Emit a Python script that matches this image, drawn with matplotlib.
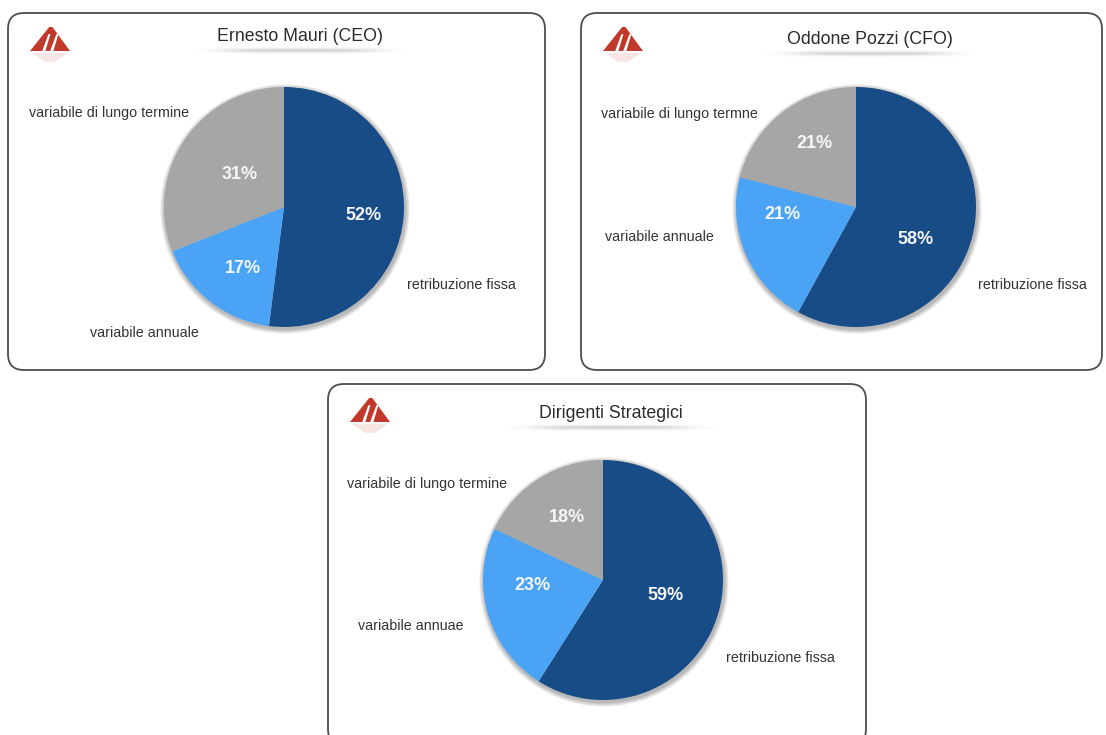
import numpy as np
import matplotlib
matplotlib.use("Agg")
import matplotlib.pyplot as plt
from matplotlib.patches import FancyBboxPatch, Circle, Polygon

# ---------------- data ----------------
categories = ["retribuzione fissa", "variabile annuale", "variabile di lungo termine"]
ceo_values = [52, 17, 31]
cfo_values = [58, 21, 21]
ds_values = [59, 23, 18]
titles = ["Ernesto Mauri (CEO)", "Oddone Pozzi (CFO)", "Dirigenti Strategici"]
ceo_labels = ["retribuzione fissa", "variabile annuale", "variabile di lungo termine"]
cfo_labels = ["retribuzione fissa", "variabile annuale", "variabile di lungo termne"]
ds_labels = ["retribuzione fissa", "variabile annuae", "variabile di lungo termine"]

# ---------------- style ----------------
colors = ["#174c86", "#4aa3f4", "#a6a6a6"]
W, H = 1106, 735
plt.rcParams["font.family"] = ["Liberation Sans", "DejaVu Sans"]

fig = plt.figure(figsize=(W / 100, H / 100), dpi=100)
fig.patch.set_facecolor("white")
bg = fig.add_axes([0, 0, 1, 1])
bg.set_xlim(0, W)
bg.set_ylim(H, 0)
bg.axis("off")

# layout per panel (pixels): box, pie centre/radius, title, outer label anchors,
# percentage label offsets in pie-radius units
panels = [
    dict(values=ceo_values, labels=ceo_labels, title=titles[0],
         box=(8, 13, 545, 370), center=(284, 207), r=120, title_xy=(300, 36),
         label_xy=[(407, 285), (90, 333), (29, 113)],
         pct_xy=[(0.66, -0.07), (-0.34, -0.51), (-0.37, 0.27)]),
    dict(values=cfo_values, labels=cfo_labels, title=titles[1],
         box=(581, 13, 1102, 370), center=(856, 207), r=120, title_xy=(870, 39),
         label_xy=[(978, 285), (605, 237), (601, 114)],
         pct_xy=[(0.50, -0.27), (-0.61, -0.06), (-0.35, 0.53)]),
    dict(values=ds_values, labels=ds_labels, title=titles[2],
         box=(328, 384, 866, 745), center=(603, 580), r=120, title_xy=(611, 413),
         label_xy=[(726, 658), (358, 626), (347, 484)],
         pct_xy=[(0.52, -0.125), (-0.59, -0.05), (-0.30, 0.52)]),
]


def draw_logo(x0, y0):
    red = "#c0392b"
    w, h = 40, 24
    def P(pts, **kw):
        bg.add_patch(Polygon([(x0 + px * w, y0 + py * h) for px, py in pts],
                             closed=True, lw=0, zorder=4, **kw))
    P([(0.0, 1.0), (0.48, 0.0), (0.56, 0.0), (1.0, 1.0)], color=red)
    for a in (0.30, 0.50):
        P([(a, 1.02), (a + 0.16, 0.30), (a + 0.21, 0.30), (a + 0.08, 1.02)], color="white")
    # faint reflection
    P([(0.05, 1.08), (0.95, 1.08), (0.62, 1.45), (0.38, 1.45)], color=red, alpha=0.13)


for p in panels:
    x0, y0, x1, y1 = p["box"]
    box = FancyBboxPatch((x0, y0), x1 - x0, y1 - y0,
                         boxstyle="round,pad=0,rounding_size=16",
                         fc="white", ec="#4d4d4d", lw=1.3, zorder=1)
    bg.add_patch(box)
    draw_logo(x0 + 22, y0 + 14)

    # title and its soft shadow bar
    tx, ty = p["title_xy"]
    bg.text(tx, ty, p["title"], ha="center", va="center", fontsize=12.8,
            color="#2b2b2b", zorder=5)
    xs = np.linspace(-1, 1, 300)
    ys = np.linspace(-1, 1, 16)
    prof = np.exp(-(xs / 0.6) ** 4)[None, :] * np.exp(-(ys / 0.4) ** 2)[:, None]
    img = np.zeros((len(ys), len(xs), 4))
    img[..., :3] = 0.5
    img[..., 3] = prof * 0.35
    bg.imshow(img, extent=(tx - 130, tx + 130, ty + 20, ty + 9),
              aspect="auto", zorder=2, interpolation="bilinear")

    # pie shadow
    cx, cy = p["center"]
    r = p["r"]
    for k in range(6, 0, -1):
        bg.add_patch(Circle((cx + 1, cy + 2), r + k * 0.8, fc="#000000",
                            alpha=0.05, lw=0, zorder=3))

    ax = fig.add_axes([(cx - r) / W, 1 - (cy + r) / H, 2 * r / W, 2 * r / H])
    wedges, texts, autotexts = ax.pie(
        p["values"], colors=colors, startangle=90, counterclock=False,
        radius=1, autopct=lambda v: f"{v:.0f}%", pctdistance=0.6,
        textprops=dict(color="#f4f6fa", fontsize=13, fontweight="bold"),
        wedgeprops=dict(lw=0))
    for t, xy in zip(autotexts, p["pct_xy"]):
        t.set_position(xy)
    ax.set_xlim(-1, 1)
    ax.set_ylim(-1, 1)
    ax.axis("off")

    for lab, (lx, ly) in zip(p["labels"], p["label_xy"]):
        bg.text(lx, ly, lab, ha="left", va="center", fontsize=10.3,
                color="#333333", zorder=5)

fig.savefig("out.png", dpi=100, facecolor="white")
